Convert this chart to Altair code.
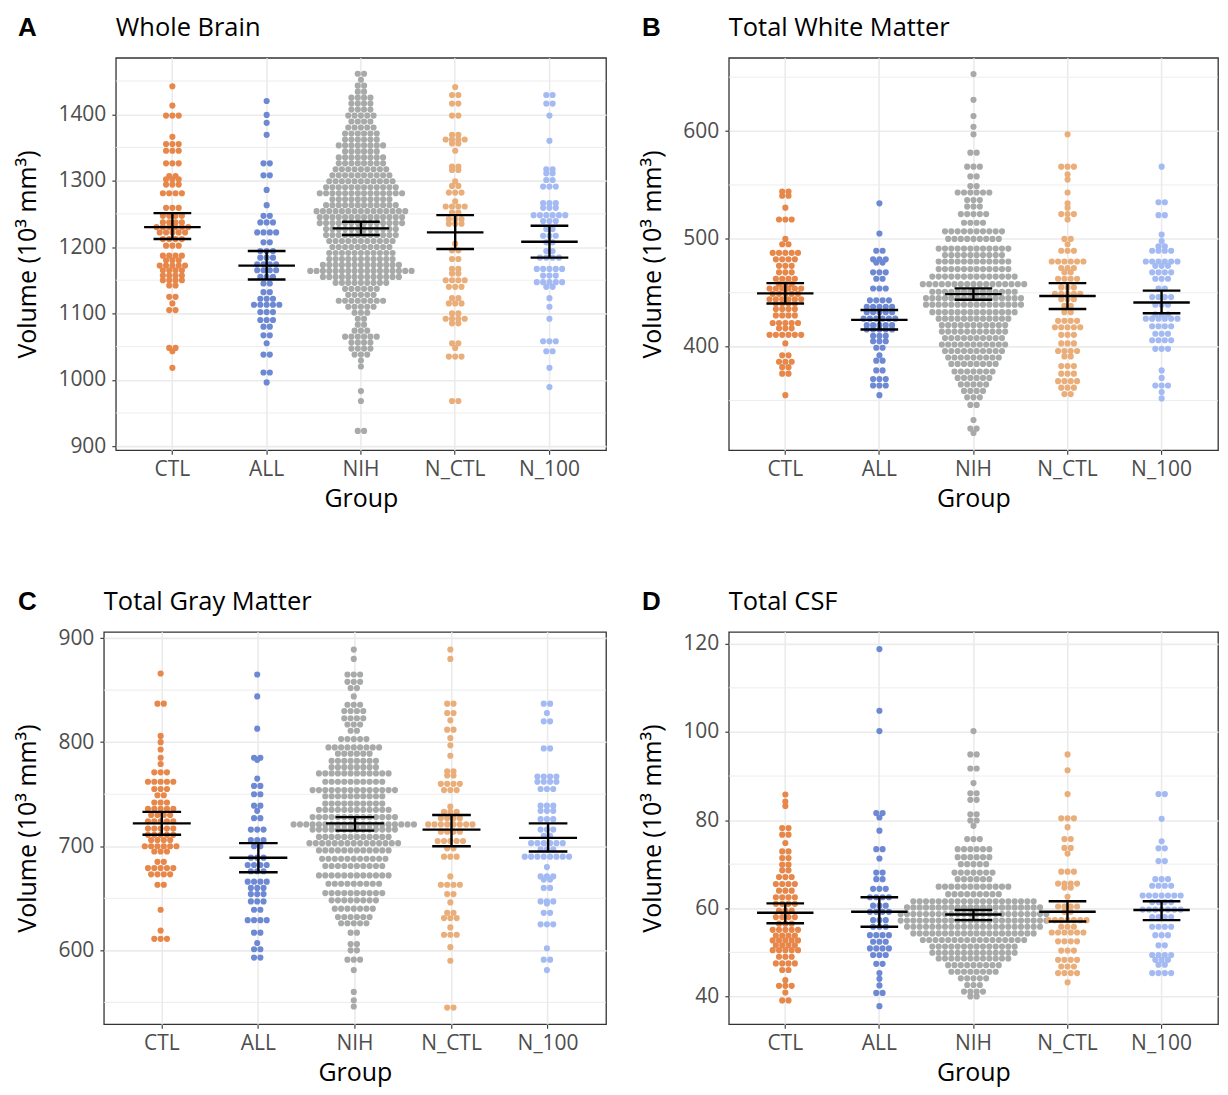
import altair as alt
import pandas as pd

FONT = "Open Sans"
GROUPS = ["CTL", "ALL", "NIH", "N_CTL", "N_100"]
COLORS = ["#E8874A", "#6E89D4", "#A8A9A9", "#EAAE7A", "#A3BAF2"]

# ---------- Panel A: Whole Brain  (volume, number of dots at that level) ----------
wb_ctl = [(1442,1),(1413,1),(1398,3),(1366,1),(1355,3),(1345,3),(1326,3),(1307,2),(1302,3),(1294,3),
          (1281,4),(1259,3),(1247,4),(1237,4),(1230,6),(1222,5),(1212,4),(1202,3),(1187,4),(1180,3),
          (1172,5),(1165,4),(1157,4),(1150,4),(1142,2),(1125,2),(1115,1),(1105,2),(1048,2),(1043,1),(1018,1)]
wb_all = [(1420,1),(1399,1),(1387,1),(1369,1),(1326,2),(1308,2),(1286,1),(1263,1),(1247,2),(1237,3),
          (1222,4),(1207,2),(1194,3),(1184,3),(1174,4),(1165,4),(1155,3),(1145,2),(1132,2),(1122,3),
          (1113,5),(1102,3),(1090,3),(1080,2),(1067,2),(1055,1),(1038,2),(1011,2),(996,1)]
wb_nih = [(1461,2),(1452,1),(1443,2),(1434,2),(1425,4),(1416,4),(1407,4),(1398,5),(1389,4),(1380,5),
          (1371,6),(1362,6),(1353,8),(1344,6),(1335,8),(1326,8),(1317,9),(1308,10),(1299,11),(1290,12),
          (1281,14),(1272,10),(1263,12),(1254,15),(1245,14),(1236,14),(1227,12),(1218,12),(1209,11),(1200,10),
          (1191,11),(1182,11),(1173,13),(1164,17),(1155,13),(1146,9),(1137,6),(1128,5),(1119,8),(1110,5),
          (1101,3),(1092,2),(1083,2),(1074,3),(1065,6),(1056,4),(1047,4),(1038,3),(1029,1),(1020,1),
          (983,1),(968,1),(923,2)]
wb_nctl = [(1441,1),(1429,2),(1416,2),(1398,2),(1369,2),(1362,4),(1356,2),(1345,1),(1321,2),(1316,2),
           (1299,1),(1292,2),(1282,3),(1269,1),(1261,4),(1252,2),(1242,3),(1235,3),(1205,1),(1195,2),
           (1182,2),(1167,2),(1160,2),(1150,4),(1140,3),(1123,2),(1115,3),(1100,2),(1092,4),(1085,2),
           (1055,2),(1048,1),(1035,3),(968,2)]
wb_n100 = [(1429,2),(1416,2),(1398,1),(1360,1),(1317,2),(1311,2),(1301,2),(1291,3),(1266,3),(1259,3),
           (1248,6),(1239,3),(1227,2),(1217,3),(1207,2),(1194,2),(1184,4),(1167,5),(1157,3),(1147,5),
           (1140,2),(1123,1),(1110,1),(1092,1),(1058,3),(1043,2),(1018,1),(989,1)]
wb_mean = [1230, 1172, 1228, 1222, 1208]
wb_lo = [1212, 1151, 1218, 1197, 1184]
wb_hi = [1251, 1194, 1238, 1248, 1232]
wb_major = [900, 1000, 1100, 1200, 1300, 1400]
wb_minor = [950, 1050, 1150, 1250, 1350, 1450]

# ---------- Panel B: Total White Matter ----------
wm_ctl = [(544,2),(540,2),(529,1),(518,3),(500,1),(495,2),(487,5),(481,4),(475,3),(469,3),(463,4),(458,3),
          (454,6),(449,5),(444,6),(440,4),(435,4),(429,4),(422,5),(417,3),(411,6),(403,1),(392,2),(386,3),
          (381,2),(375,2),(355,1)]
wm_all = [(533,1),(505,1),(489,2),(481,3),(478,2),(469,3),(463,2),(454,3),(443,4),(437,5),(432,5),(426,6),
          (420,5),(416,5),(410,3),(405,3),(399,2),(392,1),(387,2),(378,2),(370,3),(364,3),(355,1)]
wm_nih = [(653,1),(629,1),(614,1),(604,1),(597,1),(580,2),(567,3),(558,2),(549,2),(543,6),(536,3),(530,3),
          (523,5),(515,4),(507,10),(500,9),(491,12),(485,10),(479,12),(472,12),(465,14),(458,17),(451,14),
          (445,16),(439,16),(432,14),(426,12),(420,11),(414,11),(408,10),(402,11),(396,10),(390,9),(384,8),
          (377,7),(371,6),(365,5),(359,4),(353,3),(346,2),(332,1),(324,2),(320,1)]
wm_nctl = [(597,1),(567,3),(560,1),(555,1),(543,1),(533,1),(529,1),(523,3),(518,1),(500,2),(495,1),(489,3),
           (479,6),(473,3),(469,2),(463,4),(455,3),(449,5),(444,3),(438,2),(432,2),(424,4),(418,5),(411,3),
           (403,3),(396,4),(391,2),(382,3),(375,3),(368,4),(362,3),(356,2)]
wm_n100 = [(567,1),(534,2),(522,2),(504,1),(498,1),(493,2),(489,4),(479,6),(475,3),(469,4),(463,3),(454,2),
           (446,4),(439,3),(430,3),(426,6),(419,4),(412,3),(406,4),(398,3),(378,1),(371,1),(364,3),(358,1),
           (352,1)]
wm_mean = [449.5, 424.9, 448.8, 447, 441]
wm_lo = [440, 416, 443.6, 435, 431]
wm_hi = [459, 434, 454.1, 459, 452]
wm_major = [400, 500, 600]
wm_minor = [350, 450, 550, 650]

# ---------- Panel C: Total Gray Matter ----------
gm_ctl = [(866,1),(837,2),(806,1),(800,1),(793,1),(785,1),(779,1),(771,3),(762,5),(755,3),(749,2),(742,3),
          (736,5),(730,4),(724,5),(717,5),(711,5),(706,4),(700,6),(695,3),(685,2),(679,5),(673,4),(663,2),
          (639,1),(619,1),(611,3)]
gm_all = [(865,1),(844,1),(813,1),(785,2),(783,1),(765,1),(758,2),(750,2),(739,2),(734,1),(727,2),(716,3),
          (706,3),(700,2),(689,3),(682,4),(676,3),(666,4),(660,3),(654,3),(647,3),(639,2),(629,4),(617,2),
          (607,1),(601,2),(593,2)]
gm_nih = [(889,1),(880,1),(865,3),(858,3),(852,2),(844,1),(836,3),(830,4),(823,4),(817,3),(811,2),(803,5),
          (795,9),(789,6),(782,8),(776,8),(770,12),(762,10),(754,14),(748,10),(741,10),(735,12),(728,14),
          (721,20),(716,14),(709,12),(703,15),(696,12),(688,11),(681,10),(672,12),(664,9),(655,10),(648,8),
          (640,7),(632,6),(626,5),(617,2),(606,2),(600,2),(591,3),(581,1),(560,1),(552,1),(546,1)]
gm_nctl = [(889,1),(880,1),(837,2),(828,2),(821,1),(812,2),(804,1),(797,1),(787,1),(772,2),(768,2),(760,4),
           (754,3),(738,1),(733,3),(727,4),(721,8),(714,4),(705,5),(698,2),(690,3),(671,1),(663,4),(654,2),
           (646,1),(636,2),(631,3),(622,1),(615,3),(603,1),(590,1),(545,2)]
gm_n100 = [(837,2),(828,1),(820,2),(794,2),(767,4),(762,4),(755,3),(739,3),(734,3),(726,3),(716,3),(710,2),
           (703,6),(697,3),(690,8),(680,1),(671,3),(668,2),(660,2),(647,3),(645,1),(636,2),(625,3),(602,1),
           (591,2),(581,1)]
gm_mean = [722, 689, 722, 716, 708]
gm_lo = [711, 675, 715, 700, 695]
gm_hi = [733, 703, 728, 730, 722]
gm_major = [600, 700, 800, 900]
gm_minor = [550, 650, 750, 850]

# ---------- Panel D: Total CSF ----------
csf_ctl = [(85.8,1),(84.2,1),(83.2,1),(78.2,2),(76.7,2),(74.8,1),(72.9,2),(71.4,2),(69.9,2),(68.6,2),(67.1,3),
           (65.5,4),(64.0,3),(62.5,4),(61.0,4),(59.5,3),(58.0,4),(56.5,3),(55.1,5),(53.8,4),(52.7,5),(51.6,4),
           (50.5,5),(49.0,3),(47.5,4),(46.0,2),(43.7,1),(42.4,3),(40.9,1),(39.1,2)]
csf_all = [(118.8,1),(104.8,1),(100.2,1),(81.6,2),(80.6,1),(77.6,1),(73.4,2),(71.3,1),(68.1,2),(66.6,2),
           (64.4,3),(62.5,4),(60.6,3),(59.2,4),(57.3,3),(55.8,3),(53.9,4),(52.4,3),(50.9,4),(49.4,3),(47.4,2),
           (45.3,1),(44.0,1),(42.5,1),(40.8,2),(37.8,1)]
csf_nih = [(100.2,1),(94.9,2),(91.7,2),(88.4,1),(86.1,2),(84.6,2),(81.3,2),(79.9,2),(78.7,1),(75.7,3),(73.4,6),
           (71.6,6),(70.0,5),(68.1,7),(66.6,6),(64.9,12),(63.2,9),(61.6,20),(60.2,22),(58.7,24),(57.2,24),
           (55.8,22),(54.3,20),(52.8,17),(51.3,14),(49.9,14),(48.6,12),(47.1,9),(45.6,8),(44.1,5),(42.6,3),
           (41.1,4),(40.0,2)]
csf_nctl = [(94.9,1),(91.3,1),(85.9,1),(80.4,3),(78.4,1),(75.7,2),(73.7,2),(72.4,1),(68.3,3),(65.6,4),(64.7,2),
            (62.6,1),(60.4,4),(59.2,2),(57.3,7),(55.8,3),(54.5,6),(52.5,4),(50.4,3),(48.3,4),(46.8,3),(45.3,4),
            (43.2,1)]
csf_n100 = [(85.9,2),(80.3,1),(75.2,1),(73.6,2),(70.7,2),(66.6,3),(65.1,4),(62.9,7),(61.4,4),(59.7,7),(58.0,4),
            (55.8,4),(53.9,3),(51.6,2),(49.4,4),(48.3,3),(47.2,2),(45.3,4)]
csf_mean = [59.0, 59.2, 58.6, 59.2, 59.6]
csf_lo = [56.6, 55.8, 57.3, 57.0, 57.3]
csf_hi = [61.1, 62.5, 59.6, 61.6, 61.6]
csf_major = [40, 60, 80, 100, 120]
csf_minor = [50, 70, 90, 110]

SPACING = 6.5       # horizontal distance between neighbouring dots (px)
DOT_SIZE = 38
PANEL_H = 393


def expand(rows_by_group):
    recs = []
    for g, rows in zip(GROUPS, rows_by_group):
        for v, n in rows:
            for _ in range(n):
                recs.append({"Group": g, "Volume": v})
    return pd.DataFrame(recs)


def panel(letter, title, rows_by_group, mean, lo, hi, major, minor, domain, width, letter_x):
    step = width / 5.2
    xax = alt.Axis(title="Group", bandPosition=0.5, labelAngle=0, grid=True,
                   labelPadding=4, titlePadding=7)
    yax = alt.Axis(title="Volume (10³ mm³)", values=major, grid=True, format="d",
                   labelPadding=6, titlePadding=17)
    xsc = alt.Scale(domain=GROUPS, paddingInner=0, paddingOuter=0.1)
    ysc = alt.Scale(domain=domain, nice=False, zero=False)
    X = alt.X("Group:N", scale=xsc, axis=xax, sort=GROUPS)

    minor_df = pd.DataFrame({"v": minor})
    grid_minor = alt.Chart(minor_df).mark_rule(color="#EBEBEB", strokeWidth=0.9).encode(
        y=alt.Y("v:Q", scale=ysc, axis=yax)
    )

    pts = alt.Chart(expand(rows_by_group)).transform_window(
        rn="row_number()", groupby=["Group", "Volume"]
    ).transform_joinaggregate(
        n="count()", groupby=["Group", "Volume"]
    ).transform_calculate(
        off=f"(datum.rn - (datum.n + 1) / 2) * {SPACING}"
    ).mark_circle(size=DOT_SIZE, opacity=1).encode(
        x=X,
        xOffset=alt.XOffset("off:Q", scale=alt.Scale(domain=[-step / 2, step / 2])),
        y=alt.Y("Volume:Q", scale=ysc, axis=yax),
        color=alt.Color("Group:N", scale=alt.Scale(domain=GROUPS, range=COLORS), legend=None),
    )

    stats = pd.DataFrame({"Group": GROUPS, "mean": mean, "lo": lo, "hi": hi})
    sbase = alt.Chart(stats)
    vline = sbase.mark_rule(color="black", strokeWidth=2.4).encode(
        x=X, y=alt.Y("lo:Q", scale=ysc, axis=yax), y2="hi:Q",
    )
    mline = sbase.mark_tick(color="black", thickness=2.4, size=0.6 * step, opacity=1).encode(
        x=X, y=alt.Y("mean:Q", scale=ysc, axis=yax),
    )
    cap_lo = sbase.mark_tick(color="black", thickness=2.4, size=0.4 * step, opacity=1).encode(
        x=X, y=alt.Y("lo:Q", scale=ysc, axis=yax),
    )
    cap_hi = sbase.mark_tick(color="black", thickness=2.4, size=0.4 * step, opacity=1).encode(
        x=X, y=alt.Y("hi:Q", scale=ysc, axis=yax),
    )
    tag = alt.Chart(pd.DataFrame({"t": [letter]})).mark_text(
        font="Liberation Sans", fontWeight="bold", fontSize=26, align="left",
        baseline="alphabetic", color="black"
    ).encode(text="t:N", x=alt.value(letter_x), y=alt.value(-22))
    head = alt.Chart(pd.DataFrame({"t": [title]})).mark_text(
        font=FONT, fontSize=25.5, align="left", baseline="alphabetic", color="black"
    ).encode(text="t:N", x=alt.value(0), y=alt.value(-22))

    return alt.layer(grid_minor, pts, vline, mline, cap_lo, cap_hi, tag, head).properties(
        width=width, height=PANEL_H,
    )


def spacer():
    return alt.Chart(pd.DataFrame({"v": [0]})).mark_rule(opacity=0).encode(
        x=alt.X("v:Q", axis=None), y=alt.Y("v:Q", axis=None)
    ).properties(width=1, height=1, view=alt.ViewBackground(stroke="transparent"))


A = panel("A", "Whole Brain", [wb_ctl, wb_all, wb_nih, wb_nctl, wb_n100], wb_mean, wb_lo, wb_hi,
          wb_major, wb_minor, [894, 1485], 491, -98)
B = panel("B", "Total White Matter", [wm_ctl, wm_all, wm_nih, wm_nctl, wm_n100], wm_mean, wm_lo, wm_hi,
          wm_major, wm_minor, [304, 668], 490, -87)
C = panel("C", "Total Gray Matter", [gm_ctl, gm_all, gm_nih, gm_nctl, gm_n100], gm_mean, gm_lo, gm_hi,
          gm_major, gm_minor, [529, 906], 503, -86)
D = panel("D", "Total CSF", [csf_ctl, csf_all, csf_nih, csf_nctl, csf_n100], csf_mean, csf_lo, csf_hi,
          csf_major, csf_minor, [33.7, 122.7], 490, -87)

# an invisible 1px cell opens each row so that the panels of a row flow by their own bounds
chart = alt.vconcat(
    alt.hconcat(spacer(), A, B, spacing=32),
    alt.hconcat(spacer(), C, D, spacing=32),
    spacing=76,
).configure(
    padding={"left": -28, "top": 5, "right": 0, "bottom": 0},
).configure_view(
    stroke="#333333", strokeWidth=1.3,
).configure_axis(
    labelFont=FONT, labelFontSize=21, labelColor="#4D4D4D",
    titleFont=FONT, titleFontSize=25, titleFontWeight="normal", titleColor="black",
    tickColor="#333333", tickSize=4, tickWidth=1.1, domain=False,
    gridColor="#EBEBEB", gridWidth=1.6,
)

chart.save("out.html", embed_options={"renderer": "svg", "actions": False})
